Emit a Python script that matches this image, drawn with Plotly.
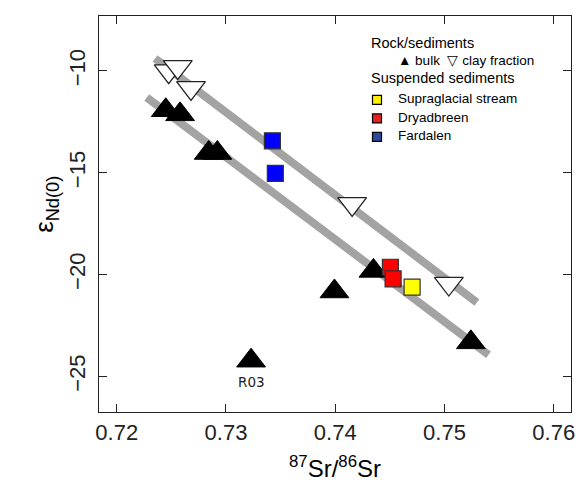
import plotly.graph_objects as go

# ---------------- data ----------------
bulk_sr = [0.72449, 0.72580, 0.72842, 0.72921, 0.74350, 0.73993, 0.75242, 0.73230]
bulk_nd = [-11.93, -12.13, -14.03, -14.03, -19.82, -20.83, -23.33, -24.23]

clay_sr = [0.72476, 0.72559, 0.72680, 0.74155, 0.75040]
clay_nd = [-10.01, -9.80, -10.83, -16.53, -20.44]

supra_sr = [0.74704]
supra_nd = [-20.62]
dryad_sr = [0.74505, 0.74530]
dryad_nd = [-19.64, -20.21]
fard_sr = [0.73425, 0.73452]
fard_nd = [-13.43, -15.03]

upper_line_sr = [0.72351, 0.75297]
upper_line_nd = [-9.39, -21.37]
lower_line_sr = [0.72275, 0.75403]
lower_line_nd = [-11.30, -23.94]

label_name = "R03"
label_sr = 0.73230
label_nd = -24.23

x_ticks = [0.72, 0.73, 0.74, 0.75, 0.76]
y_ticks = [-10, -15, -20, -25]

legend_items = ["Supraglacial stream", "Dryadbreen", "Fardalen"]
legend_colors = ["#FFEE00", "#E8201E", "#2B4A9C"]

# ---------------- layout geometry ----------------
W, H = 582, 497
L, R, T, B = 99, 571, 16, 412.3


def px(x):
    return (x - L) / (R - L)


def py(y):
    return (B - y) / (B - T)


FONT = "Liberation Sans, Arial, Helvetica, sans-serif"

fig = go.Figure()

for xs, ys in [(upper_line_sr, upper_line_nd), (lower_line_sr, lower_line_nd)]:
    fig.add_trace(go.Scatter(x=xs, y=ys, mode="lines",
                             line=dict(color="#A3A3A3", width=8),
                             hoverinfo="skip", showlegend=False))

fig.add_trace(go.Scatter(x=bulk_sr, y=bulk_nd, mode="markers", name="bulk",
                         marker=dict(symbol="triangle-up", size=25, color="black",
                                     line=dict(color="black", width=1)),
                         showlegend=False))
fig.add_trace(go.Scatter(x=clay_sr, y=clay_nd, mode="markers", name="clay fraction",
                         marker=dict(symbol="triangle-down", size=25, color="white",
                                     line=dict(color="#222222", width=1.3)),
                         showlegend=False))
for xs, ys, c, n in [(fard_sr, fard_nd, "#0000FF", "Fardalen"),
                     (dryad_sr, dryad_nd, "#FF0000", "Dryadbreen"),
                     (supra_sr, supra_nd, "#FFFF00", "Supraglacial stream")]:
    fig.add_trace(go.Scatter(x=xs, y=ys, mode="markers", name=n,
                             marker=dict(symbol="square", size=16, color=c,
                                         line=dict(color="#333333", width=1.2)),
                             showlegend=False))

annotations = []
annotations.append(dict(x=label_sr, y=label_nd, xref="x", yref="y", text=label_name,
                        showarrow=False, yshift=-21, xanchor="center", yanchor="middle",
                        font=dict(family="DejaVu Sans", size=13.5, color="#222222")))

annotations.append(dict(x=px(369), y=py(43), xref="paper", yref="paper", text="Rock/sediments",
                        showarrow=False, xanchor="left", yanchor="middle",
                        font=dict(family=FONT, size=14.5, color="black")))
annotations.append(dict(x=px(396), y=py(61), xref="paper", yref="paper",
                        text="▲ bulk  ▽ clay fraction",
                        showarrow=False, xanchor="left", yanchor="middle",
                        font=dict(family=FONT, size=13.5, color="black")))
annotations.append(dict(x=px(369), y=py(78.5), xref="paper", yref="paper", text="Suspended sediments",
                        showarrow=False, xanchor="left", yanchor="middle",
                        font=dict(family=FONT, size=14.5, color="black")))

shapes = []
for i, (name, col) in enumerate(zip(legend_items, legend_colors)):
    cy = [100, 118.5, 137][i]
    annotations.append(dict(x=px(396), y=py(cy - 1), xref="paper", yref="paper", text=name,
                            showarrow=False, xanchor="left", yanchor="middle",
                            font=dict(family=FONT, size=13.5, color="black")))
    shapes.append(dict(type="rect", xref="paper", yref="paper",
                       x0=px(372.5), x1=px(381.5), y0=py(cy + 4.5), y1=py(cy - 4.5),
                       fillcolor=col, line=dict(color="black", width=1.2)))

# axis titles
annotations.append(dict(x=px(335), y=py(467), xref="paper", yref="paper",
                        text="<sup>87</sup>Sr/<sup>86</sup>Sr",
                        showarrow=False, xanchor="center", yanchor="middle",
                        font=dict(family=FONT, size=24, color="black")))
annotations.append(dict(x=px(46), y=py(205), xref="paper", yref="paper",
                        text="ε<sub>Nd(0)</sub>", textangle=-90,
                        showarrow=False, xanchor="center", yanchor="middle",
                        font=dict(family=FONT, size=26, color="black")))

axis_common = dict(showgrid=False, zeroline=False, showline=True, linecolor="#222222",
                   linewidth=1.3, mirror="ticks", ticks="inside", ticklen=8,
                   tickwidth=1.2, tickcolor="#222222", automargin=False,
                   tickfont=dict(family=FONT, size=22, color="#222222"))

fig.update_layout(
    width=W, height=H,
    margin=dict(l=L, r=W - R, t=T, b=H - B, autoexpand=False),
    paper_bgcolor="white", plot_bgcolor="white",
    xaxis=dict(range=[0.718379, 0.761584], tickvals=x_ticks,
               ticktext=[f"{v:.2f}" for v in x_ticks], **axis_common),
    yaxis=dict(range=[-26.75, -7.30], tickvals=y_ticks, tickangle=-90,
               ticklabelstandoff=4, **axis_common),
    annotations=annotations, shapes=shapes,
    showlegend=False,
)

fig.write_html("out.html", config={"displayModeBar": False},
               post_script="document.body.style.margin='0';document.body.style.padding='0';document.body.style.overflow='hidden';")
